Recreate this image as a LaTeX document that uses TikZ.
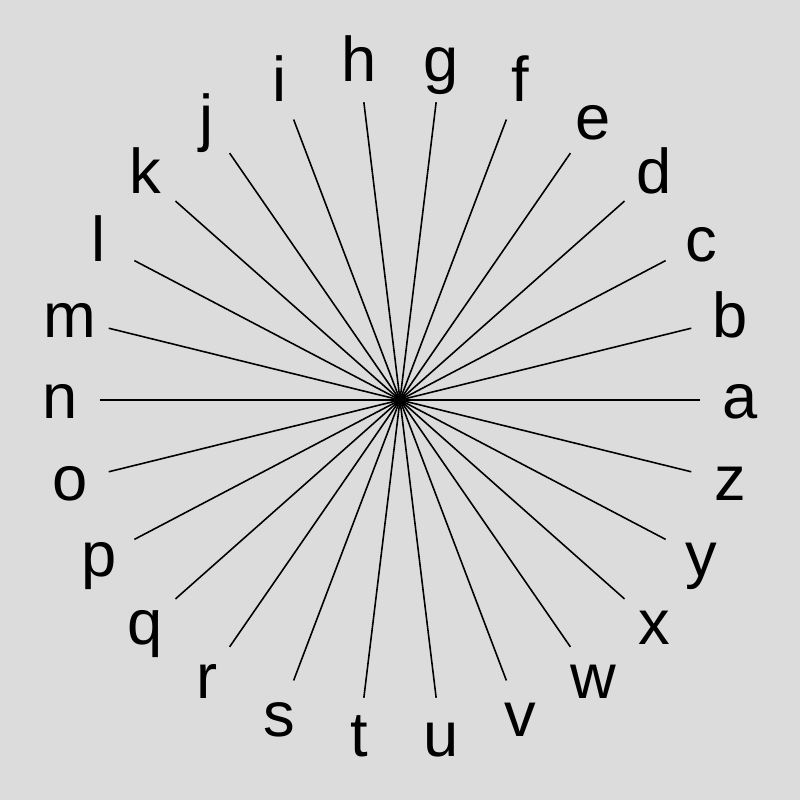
\documentclass[tikz,border=0pt]{standalone}
\usepackage{fontspec}
\setmainfont{Liberation Sans}
\usepackage{tikz}
\usetikzlibrary{calc}
\definecolor{bggray}{RGB}{220,220,220}

\begin{document}
\begin{tikzpicture}[
    spoke/.style={line width=0.45pt, color=black},
    letter/.style={anchor=base, inner sep=0pt, font=\fontsize{18}{20}\selectfont}
]
    % Background
    \fill[bggray] (-4,-4) rectangle (4,4);
    \useasboundingbox (-4,-4) rectangle (4,4);
    \coordinate (hub) at (0,0);

    % Spokes and letters
    \foreach \l [count=\i from 0] in {a,b,...,z} {
        \coordinate (tip-\l) at ({\i*360/26}:3);
        \draw[spoke] (hub) -- (tip-\l);
        \node[letter] (lbl-\l) at ($({\i*360/26}:3.4)+(0,-0.19)$) {\l};
    }
\end{tikzpicture}
\end{document}
